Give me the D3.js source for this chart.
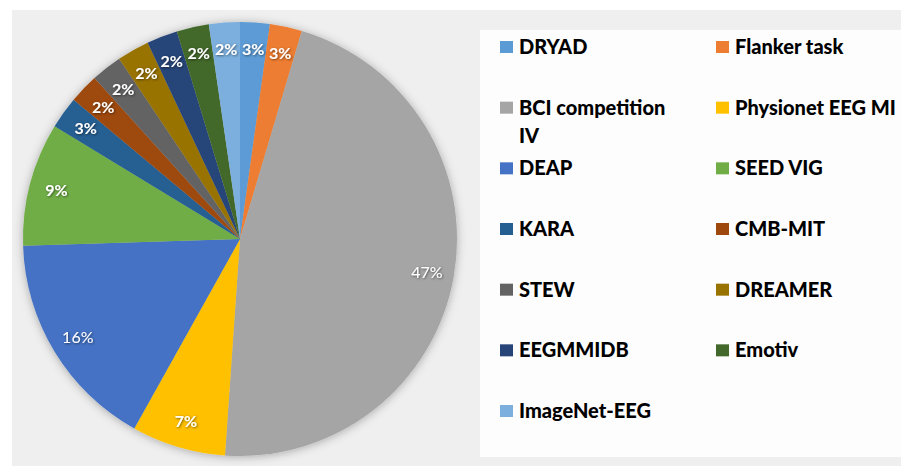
<!DOCTYPE html>
<html>
<head>
<meta charset="utf-8">
<script src="https://cdn.jsdelivr.net/npm/d3@7"></script>
<style>
    body { margin: 0; background: #ffffff; }
    svg { display: block; }
</style>
</head>
<body>
<div id="chart"></div>
<script>

// datasets in clockwise order, starting at 12 o'clock
const datasets = ["DRYAD", "Flanker task", "BCI competition IV", "Physionet EEG MI", "DEAP", "SEED VIG",
    "KARA", "CMB-MIT", "STEW", "DREAMER", "EEGMMIDB", "Emotiv", "ImageNet-EEG"];

// slice sizes (percent of the circle)
const shares = [2.2, 2.4, 46.5, 7.0, 16.4, 9.2, 2.4, 2.2, 2.3, 2.4, 2.3, 2.4, 2.3];

// data labels as printed on the slices
const pctLabels = ["3%", "3%", "47%", "7%", "16%", "9%", "3%", "2%", "2%", "2%", "2%", "2%", "2%"];

const colors = ["#5b9bd5", "#ed7d31", "#a5a5a5", "#ffc000", "#4472c4", "#70ad47",
    "#255e91", "#9e480e", "#636363", "#997300", "#264478", "#43682b", "#7cafdd"];

let width = 901,
    height = 466;

let svg = d3.select("#chart")
    .append("svg")
    .attr("width", width)
    .attr("height", height);

let defs = svg.append("defs");

// soft shadow round the pie
defs.append("filter")
    .attr("id", "pieShadow")
    .attr("x", "-20%").attr("y", "-20%")
    .attr("width", "140%").attr("height", "140%")
    .append("feDropShadow")
    .attr("dx", 0).attr("dy", 1)
    .attr("stdDeviation", 5)
    .attr("flood-color", "#000")
    .attr("flood-opacity", 0.3);

// small shadow behind the white labels
defs.append("filter")
    .attr("id", "textShadow")
    .append("feDropShadow")
    .attr("dx", 0.8).attr("dy", 0.8)
    .attr("stdDeviation", 0.8)
    .attr("flood-color", "#000")
    .attr("flood-opacity", 0.55);

// chart background and legend panel
svg.append("rect")
    .attr("x", 12).attr("y", 10)
    .attr("width", width - 12).attr("height", height - 10)
    .attr("fill", "#efefef");

svg.append("rect")
    .attr("x", 480).attr("y", 30)
    .attr("width", width - 480).attr("height", 427)
    .attr("fill", "#fdfdfd");

// pie
let cx = 240,
    cy = 239,
    radius = 217;

let color = d3.scaleOrdinal()
    .domain(datasets)
    .range(colors);

let pie = d3.pie()
    .sort(null)
    .value(d => d.share);

let tableData = datasets.map((d, i) => ({ name: d, share: shares[i], label: pctLabels[i] }));

let arcs = pie(tableData);

let arc = d3.arc()
    .innerRadius(0)
    .outerRadius(radius);

let labelArc = d3.arc()
    .innerRadius(radius * 0.875)
    .outerRadius(radius * 0.875);

let pieGroup = svg.append("g")
    .attr("transform", `translate(${cx}, ${cy})`);

pieGroup.append("g")
    .attr("filter", "url(#pieShadow)")
    .selectAll("path")
    .data(arcs)
    .enter()
    .append("path")
    .attr("d", arc)
    .attr("fill", d => color(d.data.name));

pieGroup.append("g")
    .attr("filter", "url(#textShadow)")
    .selectAll("text")
    .data(arcs)
    .enter()
    .append("text")
    .attr("transform", d => `translate(${labelArc.centroid(d)})`)
    .attr("text-anchor", "middle")
    .attr("dy", "0.35em")
    .attr("font-family", "Lato, 'Open Sans', sans-serif")
    .attr("font-size", "16px")
    .attr("font-weight", d => d.data.share >= 10 ? "normal" : "bold")
    .attr("fill", "#ffffff")
    .text(d => d.data.label);

// legend, two columns
let legendX = [500, 716],
    legendY = d3.scaleLinear().domain([0, 6]).range([54, 418]);

let legend = svg.append("g")
    .selectAll("g")
    .data(tableData)
    .enter()
    .append("g")
    .attr("transform", (d, i) => `translate(${legendX[i % 2]}, ${legendY(Math.floor(i / 2))})`);

legend.append("rect")
    .attr("x", 0)
    .attr("y", -13)
    .attr("width", 13)
    .attr("height", 12)
    .attr("fill", d => color(d.name));

legend.append("text")
    .attr("x", 19)
    .attr("y", 0)
    .attr("font-family", "Lato, 'Open Sans', sans-serif")
    .attr("font-size", "20px")
    .attr("font-weight", "900")
    .attr("fill", "#000000")
    .each(function(d, i) {
        let text = d3.select(this);
        // first column wraps long names like the original
        if (i % 2 === 0) {
            let words = d.name.split(" "),
                line = [],
                tspan = text.append("tspan").attr("x", 19).attr("dy", 0);
            words.forEach(w => {
                line.push(w);
                tspan.text(line.join(" "));
                if (tspan.node().getComputedTextLength() > 160 && line.length > 1) {
                    line.pop();
                    tspan.text(line.join(" "));
                    line = [w];
                    tspan = text.append("tspan").attr("x", 19).attr("dy", 28).text(w);
                }
            });
        } else {
            text.text(d.name);
        }
    });

</script>
</body>
</html>
